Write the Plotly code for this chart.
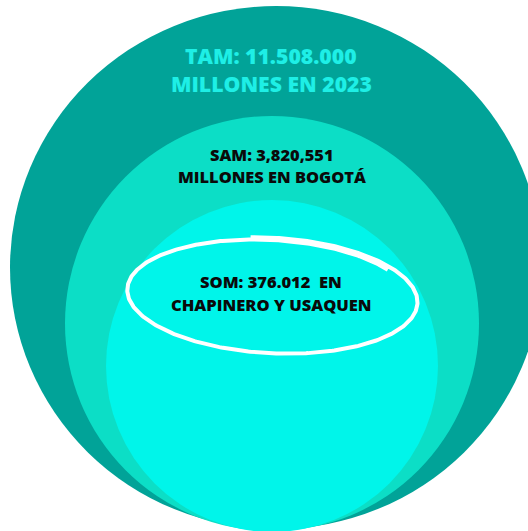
import numpy as np
import plotly.graph_objects as go

# ---- data ----
segments = ["TAM", "SAM", "SOM"]
amounts = ["11.508.000", "3,820,551", "376.012"]
line1_suffix = ["", "", "  EN"]
line2_text = ["MILLONES EN 2023", "MILLONES EN BOGOTÁ", "CHAPINERO Y USAQUEN"]

# ---- styling / geometry (pixel space) ----
W, H = 528, 531
fills = ["#01A398", "#0CDEC6", "#00F5EA"]
text_colors = ["#1EEFE6", "#0A0A0A", "#0A0A0A"]
font_sizes = [21.2, 16.4, 16.5]
# ellipse boxes x0, y0, x1, y1
boxes = [(10, 6, 542, 529), (65, 116, 479, 531), (106, 200, 438, 532)]
text_y = [(55, 83), (154, 176), (281, 304)]
text_x = [271, 272, 271]

fig = go.Figure()

shapes = []
for (x0, y0, x1, y1), c in zip(boxes, fills):
    shapes.append(dict(type="circle", xref="x", yref="y", x0=x0, y0=y0, x1=x1, y1=y1,
                       fillcolor=c, line=dict(width=0), layer="below"))

# hand-drawn white loop around SOM text (spiral slightly over one turn)
cx, cy, rx, ry, rot = 271, 296, 146, 57.5, np.deg2rad(3)
t = np.linspace(-1.73, -0.62 + 2 * np.pi, 500)
grow = 1.015 - 0.045 * (t - t[0]) / (t[-1] - t[0])
ex = rx * grow * np.cos(t)
ey = ry * grow * np.sin(t)
px = cx + ex * np.cos(rot) - ey * np.sin(rot)
py = cy + ex * np.sin(rot) + ey * np.cos(rot)
fig.add_trace(go.Scatter(x=px, y=py, mode="lines", line=dict(color="white", width=4),
                         hoverinfo="skip", showlegend=False))

annotations = []
for i, seg in enumerate(segments):
    l1 = f"{seg}: {amounts[i]}{line1_suffix[i]}".replace("  ", "\u00a0 ")
    for txt, yy in zip([l1, line2_text[i]], text_y[i]):
        annotations.append(dict(x=text_x[i], y=yy, xref="x", yref="y", text=txt, showarrow=False,
                                xanchor="center", yanchor="middle",
                                font=dict(family="Open Sans", size=font_sizes[i],
                                          color=text_colors[i], weight=800)))

fig.update_layout(
    width=W, height=H, margin=dict(l=0, r=0, t=0, b=0),
    paper_bgcolor="white", plot_bgcolor="white",
    xaxis=dict(range=[0, W], visible=False, fixedrange=True),
    yaxis=dict(range=[H, 0], visible=False, fixedrange=True),
    shapes=shapes, annotations=annotations, showlegend=False,
)
fig.write_html("out.html", config={"displayModeBar": False},
               post_script="document.body.style.margin='0';document.body.style.overflow='hidden';")
